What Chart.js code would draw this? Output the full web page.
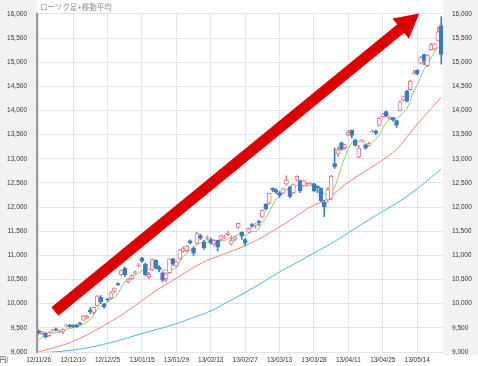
<!DOCTYPE html>
<html>
<head>
<meta charset="utf-8">
<script src="https://cdn.jsdelivr.net/npm/chart.js@4.4.1/dist/chart.umd.min.js"></script>
<style>
  html, body { margin: 0; padding: 0; background: #fff; }
  canvas { display: block; }
</style>
</head>
<body>
<canvas id="chart" width="478" height="366"></canvas>
<script>
// trading days, 12/11/26 .. 13/05/23
const dates = [
  "12/11/26","12/11/27","12/11/28","12/11/29","12/11/30",
  "12/12/03","12/12/04","12/12/05","12/12/06","12/12/07","12/12/10","12/12/11","12/12/12","12/12/13","12/12/14",
  "12/12/17","12/12/18","12/12/19","12/12/20","12/12/21","12/12/25","12/12/26","12/12/27","12/12/28",
  "13/01/04","13/01/07","13/01/08","13/01/09","13/01/10","13/01/11","13/01/15","13/01/16","13/01/17","13/01/18",
  "13/01/21","13/01/22","13/01/23","13/01/24","13/01/25","13/01/28","13/01/29","13/01/30","13/01/31",
  "13/02/01","13/02/04","13/02/05","13/02/06","13/02/07","13/02/08","13/02/12","13/02/13","13/02/14","13/02/15",
  "13/02/18","13/02/19","13/02/20","13/02/21","13/02/22","13/02/25","13/02/26","13/02/27","13/02/28",
  "13/03/01","13/03/04","13/03/05","13/03/06","13/03/07","13/03/08","13/03/11","13/03/12","13/03/13","13/03/14",
  "13/03/15","13/03/18","13/03/19","13/03/21","13/03/22","13/03/25","13/03/26","13/03/27","13/03/28","13/03/29",
  "13/04/01","13/04/02","13/04/03","13/04/04","13/04/05","13/04/08","13/04/09","13/04/10","13/04/11","13/04/12",
  "13/04/15","13/04/16","13/04/17","13/04/18","13/04/19","13/04/22","13/04/23","13/04/24","13/04/25","13/04/26",
  "13/04/30","13/05/01","13/05/02","13/05/07","13/05/08","13/05/09","13/05/10","13/05/13","13/05/14",
  "13/05/15","13/05/16","13/05/17","13/05/20","13/05/21","13/05/22","13/05/23"
];

const opens = [
  9440,9380,9390,9340,9440,9480,9430,9420,9540,9560,
  9540,9560,9600,9660,9700,9870,9820,9960,10130,9990,
  10100,10120,10260,10410,10600,10740,10450,10520,10640,10780,
  10950,10820,10560,10700,10900,10760,10640,10520,10640,10930,
  10780,10920,11090,11100,11300,11150,11250,11410,11280,11350,
  11330,11240,11310,11330,11360,11430,11230,11330,11580,11480,
  11330,11480,11640,11620,11700,11790,12060,12080,12390,12360,
  12300,12290,12480,12420,12300,12560,12550,12440,12460,12460,
  12480,12430,12390,12100,12150,12180,12900,13100,13330,13230,
  13500,13590,13390,13040,13370,13290,13280,13560,13580,13690,
  13870,13980,13830,13850,13790,14000,14220,14400,14430,14760,
  14830,14980,15160,14930,15260,15270,15450,15760
];
const highs = [
  9450,9430,9400,9420,9470,9500,9460,9480,9570,9570,
  9560,9570,9610,9760,9760,9920,9930,10170,10170,10010,
  10110,10250,10330,10430,10700,10760,10520,10600,10680,10830,
  10960,10840,10650,10930,10910,10790,10660,10640,10930,10940,
  10880,11130,11180,11200,11320,11180,11480,11440,11310,11400,
  11360,11330,11320,11420,11420,11500,11400,11400,11670,11490,
  11350,11570,11660,11660,11720,11940,12070,12290,12400,12380,
  12320,12390,12650,12430,12480,12650,12560,12560,12500,12510,
  12490,12440,12400,12140,12400,12660,13225,13250,13350,13300,
  13590,13600,13410,13280,13400,13300,13340,13600,13590,13860,
  13940,13990,13880,13860,13800,14200,14300,14420,14630,14830,
  14840,15120,15170,15160,15390,15390,15730,15942
];
const lows = [
  9370,9360,9290,9320,9410,9440,9400,9380,9520,9510,
  9510,9510,9560,9650,9690,9790,9780,9950,10000,9900,
  10050,10100,10230,10380,10580,10560,10430,10500,10610,10760,
  10860,10580,10520,10680,10720,10660,10460,10460,10620,10800,
  10760,10910,11060,11070,11240,11000,11230,11330,11130,11320,
  11230,11200,11090,11310,11340,11410,11210,11300,11560,11330,
  11200,11470,11580,11560,11620,11780,11940,12060,12320,12280,
  12200,12270,12450,12190,12280,12540,12300,12430,12430,12440,
  12320,12300,12120,11805,12100,12150,12800,13050,13180,13200,
  13480,13430,13260,13020,13350,13200,13260,13540,13500,13680,
  13860,13870,13810,13780,13650,13990,14200,14180,14420,14750,
  14740,14960,14950,14900,15250,15250,15440,14960
];
const closes = [
  9389,9423,9308,9401,9446,9458,9432,9469,9545,9527,
  9534,9525,9581,9743,9738,9829,9923,10160,10039,9940,
  10080,10230,10323,10395,10688,10599,10508,10579,10653,10802,
  10879,10600,10610,10913,10748,10710,10487,10621,10927,10824,
  10867,11114,11139,11191,11260,11047,11464,11357,11153,11369,
  11251,11307,11174,11408,11372,11468,11309,11386,11663,11399,
  11254,11559,11606,11652,11683,11932,11968,12284,12349,12315,
  12240,12381,12561,12221,12468,12636,12339,12546,12472,12494,
  12336,12398,12135,12003,12362,12635,12834,13193,13192,13288,
  13549,13485,13276,13221,13383,13220,13316,13568,13530,13843,
  13926,13884,13861,13799,13694,14180,14286,14191,14608,14782,
  14758,15096,15037,15138,15361,15381,15627,15160
];

// short moving average (green), one value per day
const maShort = [
  9254,9308,9342,9377,9393,9407,9409,9441,9470,9486,
  9501,9520,9542,9582,9624,9683,9763,9879,9938,9978,
  10028,10090,10122,10194,10343,10447,10503,10554,10605,10628,
  10684,10703,10709,10761,10750,10716,10694,10696,10699,10714,
  10745,10871,10974,11027,11114,11150,11220,11264,11256,11278,
  11319,11287,11251,11302,11302,11346,11346,11389,11440,11445,
  11402,11452,11496,11494,11551,11686,11768,11904,12043,12170,
  12231,12314,12369,12344,12374,12453,12445,12442,12492,12497,
  12437,12449,12367,12273,12247,12307,12394,12605,12843,13028,
  13211,13341,13358,13364,13383,13317,13283,13342,13403,13495,
  13637,13750,13809,13863,13833,13884,13964,14030,14192,14409,
  14525,14687,14856,14962,15078,15203,15309,15333
];

// medium moving average (red), read at these days
const maMidDays = [0,4,9,14,19,24,29,34,39,44,49,54,59,64,69,74,79,84,89,94,99,104,109,114,117];
const maMid = [9005,9080,9190,9355,9550,9765,10012,10265,10483,10710,10897,11032,11171,11338,11549,11768,12007,12168,12463,12706,12930,13197,13630,14040,14274];

// long moving average (blue), read at these days
const maLongDays = [0,5,10,15,20,25,30,35,40,45,50,55,60,65,70,75,80,85,90,95,100,105,110,115,117];
const maLong = [8985,9005,9040,9100,9178,9275,9382,9480,9587,9715,9850,10040,10230,10440,10660,10850,11050,11245,11470,11695,11910,12125,12380,12670,12788];

const yTicks = { min: 9000, max: 16000, step: 500 };
const arrowTail = [4.7, 9840];   // [day index, price]
const arrowTip = [110.6, 16010];

const upColor = "#e47a8a";
const downColor = "#3a7cc0";
const gridColor = "#dde5f3";
const tickFont = { family: "'Liberation Sans', Arial, sans-serif", size: 6.5 };

const rising = closes.map((c, i) => c >= opens[i]);

function sampled(days, values) {
  const out = new Array(dates.length).fill(null);
  days.forEach((d, j) => { out[d] = values[j]; });
  return out;
}

const background = {
  id: "background",
  beforeDraw(chart) {
    const { ctx, chartArea: a } = chart;
    ctx.save();
    ctx.fillStyle = "#fff";
    ctx.fillRect(0, 0, chart.width, chart.height);
    ctx.fillStyle = "#f3f2f0";
    ctx.fillRect(0, 0, a.left, a.bottom + 3);
    ctx.fillRect(a.right, 0, chart.width - a.right, a.bottom + 3);
    ctx.restore();
  },
  afterDraw(chart) {
    const ctx = chart.ctx;
    ctx.save();
    ctx.fillStyle = "#8a8a8a";
    ctx.textBaseline = "middle";
    ctx.font = "7.5px 'Noto Sans CJK JP', sans-serif";
    ctx.fillText("ローソク足+移動平均", 40, 7);
    ctx.fillStyle = "#333";
    ctx.font = "6.5px 'Noto Sans CJK JP', sans-serif";
    ctx.fillText("(円)", -2.5, 360);
    ctx.restore();
  }
};

const bigArrow = {
  id: "bigArrow",
  afterDatasetsDraw(chart) {
    const { ctx, scales } = chart;
    const x0 = scales.x.getPixelForValue(arrowTail[0]);
    const y0 = scales.y.getPixelForValue(arrowTail[1]);
    const x1 = scales.x.getPixelForValue(arrowTip[0]);
    const y1 = scales.y.getPixelForValue(arrowTip[1]);
    const ang = Math.atan2(y1 - y0, x1 - x0);
    const headLen = 24, headHalf = 13;
    const bx = x1 - headLen * Math.cos(ang);
    const by = y1 - headLen * Math.sin(ang);
    ctx.save();
    ctx.strokeStyle = "#dd0000";
    ctx.fillStyle = "#dd0000";
    ctx.lineWidth = 11;
    ctx.lineCap = "butt";
    ctx.beginPath();
    ctx.moveTo(x0, y0);
    ctx.lineTo(bx + Math.cos(ang), by + Math.sin(ang));
    ctx.stroke();
    ctx.beginPath();
    ctx.moveTo(x1, y1);
    ctx.lineTo(bx - headHalf * Math.sin(ang), by + headHalf * Math.cos(ang));
    ctx.lineTo(bx + headHalf * Math.sin(ang), by - headHalf * Math.cos(ang));
    ctx.closePath();
    ctx.fill();
    ctx.restore();
  }
};

const ctx = document.getElementById("chart").getContext("2d");

new Chart(ctx, {
  type: "bar",
  data: {
    labels: dates,
    datasets: [
      {
        type: "line",
        data: maShort,
        borderColor: "#92d06a",
        borderWidth: 1,
        pointRadius: 0,
        order: 3
      },
      {
        type: "line",
        data: sampled(maMidDays, maMid),
        borderColor: "#f3846f",
        borderWidth: 1,
        pointRadius: 0,
        spanGaps: true,
        tension: 0.3,
        order: 4
      },
      {
        type: "line",
        data: sampled(maLongDays, maLong),
        borderColor: "#4bb6e6",
        borderWidth: 1,
        pointRadius: 0,
        spanGaps: true,
        tension: 0.3,
        order: 5
      },
      {
        // wicks
        data: lows.map((l, i) => [l, highs[i]]),
        backgroundColor: rising.map(r => r ? upColor : downColor),
        barThickness: 1,
        grouped: false,
        order: 1
      },
      {
        // bodies
        data: opens.map((o, i) => [o, closes[i]]),
        backgroundColor: rising.map(r => r ? "#ffffff" : downColor),
        borderColor: rising.map(r => r ? upColor : downColor),
        borderWidth: 1,
        borderSkipped: false,
        barThickness: 4,
        minBarLength: 1,
        grouped: false,
        order: 0
      }
    ]
  },
  options: {
    responsive: false,
    devicePixelRatio: 1,
    animation: false,
    layout: { padding: { top: 10, right: 0, bottom: 0, left: 0 } },
    plugins: {
      legend: { display: false },
      tooltip: { enabled: false }
    },
    scales: {
      x: {
        offset: true,
        grid: {
          offset: false,
          drawTicks: false,
          color: c => (c.index % 10 === 0 ? gridColor : "rgba(0,0,0,0)")
        },
        border: { display: false },
        ticks: {
          autoSkip: false,
          maxRotation: 0,
          padding: 4,
          font: tickFont,
          color: "#333",
          callback: (v, i) => (i % 10 === 0 ? dates[i] : "")
        },
        afterFit: s => { s.height = 14; }
      },
      y: {
        position: "left",
        min: yTicks.min,
        max: yTicks.max,
        grid: { color: gridColor, drawTicks: false },
        border: { display: true, color: "#9a9a9a", width: 2 },
        ticks: {
          stepSize: yTicks.step,
          padding: 10,
          font: tickFont,
          color: "#333",
          callback: v => v.toLocaleString("en-US")
        },
        afterFit: s => { s.width = 37; }
      },
      y2: {
        position: "right",
        min: yTicks.min,
        max: yTicks.max,
        grid: { display: false, drawTicks: false },
        border: { display: false },
        ticks: {
          stepSize: yTicks.step,
          padding: 9,
          font: tickFont,
          color: "#333",
          callback: v => v.toLocaleString("en-US")
        },
        afterFit: s => { s.width = 35; }
      }
    }
  },
  plugins: [background, bigArrow]
});
</script>
</body>
</html>
